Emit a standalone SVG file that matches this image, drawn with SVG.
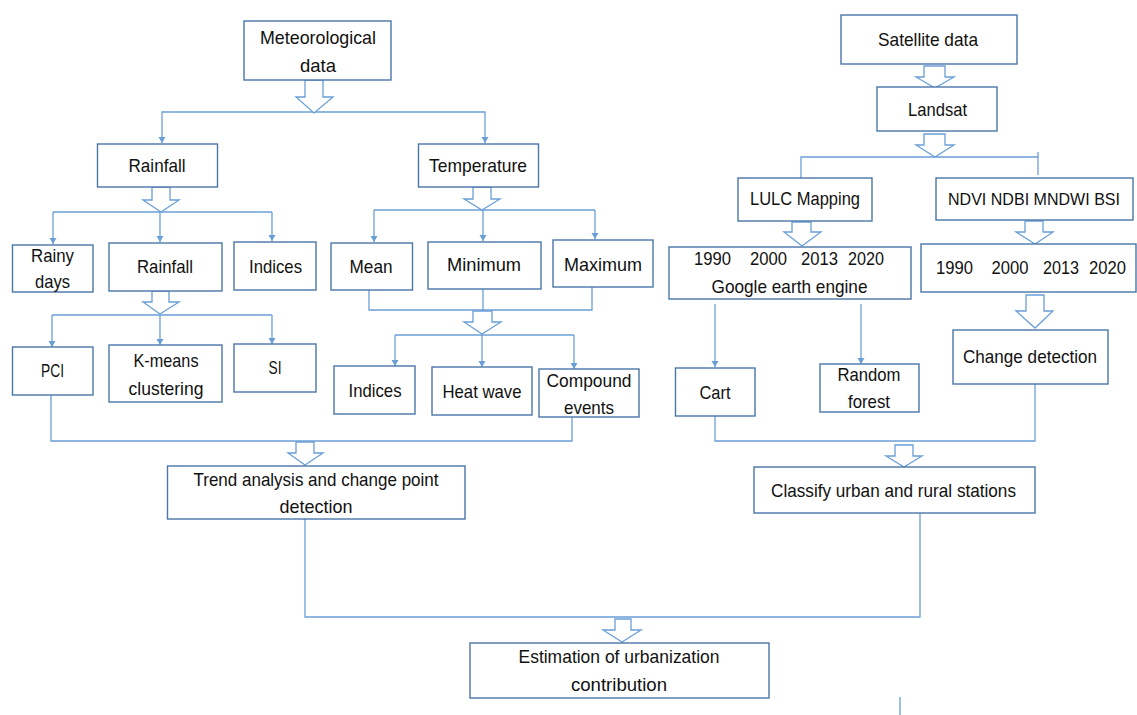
<svg xmlns="http://www.w3.org/2000/svg" width="1137" height="715" viewBox="0 0 1137 715">
<defs>
<style>
.box{fill:#fff;stroke:#4a76a8;stroke-width:1.4}
.con{fill:none;stroke:#6a9fd6;stroke-width:1.3}
.blk{fill:#fff;stroke:#6a9fd6;stroke-width:1.3;stroke-linejoin:miter}
text{font-family:"Liberation Sans",Arial,sans-serif;font-size:19px;fill:#111;text-anchor:middle}
</style>
<marker id="dn" markerWidth="8" markerHeight="8" refX="4" refY="7" markerUnits="userSpaceOnUse" viewBox="0 0 8 8">
<path d="M0.5,1 L7.5,1 L4,7 Z" fill="#6a9fd6"/>
</marker>
</defs>
<rect width="1137" height="715" fill="#fff"/>

<g id="connectors">
<path class="con" d="M314 112 H162 V143" marker-end="url(#dn)"/>
<path class="con" d="M314 112 H485 V143" marker-end="url(#dn)"/>
<path class="con" d="M53 212 H272"/>
<path class="con" d="M53 212 V244" marker-end="url(#dn)"/>
<path class="con" d="M160 212 V242" marker-end="url(#dn)"/>
<path class="con" d="M272 212 V241" marker-end="url(#dn)"/>
<path class="con" d="M374 210 H595"/>
<path class="con" d="M374 210 V242" marker-end="url(#dn)"/>
<path class="con" d="M483 210 V241" marker-end="url(#dn)"/>
<path class="con" d="M595 210 V239" marker-end="url(#dn)"/>
<path class="con" d="M369 290 V310 H592 V287"/>
<path class="con" d="M483 289 V310"/>
<path class="con" d="M395 335 H574"/>
<path class="con" d="M395 335 V366" marker-end="url(#dn)"/>
<path class="con" d="M482 335 V367" marker-end="url(#dn)"/>
<path class="con" d="M574 335 V369" marker-end="url(#dn)"/>
<path class="con" d="M52 315 H272"/>
<path class="con" d="M52 315 V347" marker-end="url(#dn)"/>
<path class="con" d="M160 315 V345" marker-end="url(#dn)"/>
<path class="con" d="M272 315 V344" marker-end="url(#dn)"/>
<path class="con" d="M51 395 V441 H572 V417"/>
<path class="con" d="M305 519 V617 H920 V513"/>
<path class="con" d="M801 178 V157 H1038"/>
<path class="con" d="M1038 152 V175"/>
<path class="con" d="M715 304 V367" marker-end="url(#dn)"/>
<path class="con" d="M861 304 V364" marker-end="url(#dn)"/>
<path class="con" d="M715 416 V441 H1035 V384"/>
<path class="con" d="M900 697 V715"/>
<polygon class="blk" points="305,80 323,80 323,97 333,97 314,113 296,97 305,97"/>
<polygon class="blk" points="152,187 170,187 170,200 179,200 161,212 143,200 152,200"/>
<polygon class="blk" points="473,187 491,187 491,199 500,199 482,210 464,199 473,199"/>
<polygon class="blk" points="152,291 169,291 169,302 179,302 160,314 143,302 152,302"/>
<polygon class="blk" points="473,311 492,311 492,322 501,322 482,334 464,322 473,322"/>
<polygon class="blk" points="296,442 314,442 314,453 323,453 305,465 288,453 296,453"/>
<polygon class="blk" points="924,66 945,66 945,77 954,77 935,88 916,77 924,77"/>
<polygon class="blk" points="924,134 945,134 945,145 954,145 935,157 916,145 924,145"/>
<polygon class="blk" points="792,222 811,222 811,232 821,232 802,246 784,232 792,232"/>
<polygon class="blk" points="1025,221 1043,221 1043,232 1053,232 1035,244 1016,232 1025,232"/>
<polygon class="blk" points="1026,295 1044,295 1044,311 1053,311 1035,328 1016,311 1026,311"/>
<polygon class="blk" points="895,445 913,445 913,456 922,456 904,467 886,456 895,456"/>
<polygon class="blk" points="615,619 631,619 631,630 641,630 622,642 603,630 615,630"/>
</g>

<g id="n-met"><rect class="box" x="244" y="21" width="147" height="59"/><text x="318" y="44" textLength="116" lengthAdjust="spacingAndGlyphs">Meteorological</text><text x="318" y="72" textLength="36" lengthAdjust="spacingAndGlyphs">data</text></g>
<g id="n-rainfall"><rect class="box" x="97.5" y="144" width="120" height="43"/><text x="157" y="172" textLength="57" lengthAdjust="spacingAndGlyphs">Rainfall</text></g>
<g id="n-temp"><rect class="box" x="418.5" y="144" width="120" height="43"/><text x="478" y="172" textLength="98" lengthAdjust="spacingAndGlyphs">Temperature</text></g>
<g id="n-rainy"><rect class="box" x="12.5" y="245" width="80.5" height="47"/><text x="52.5" y="262" textLength="43" lengthAdjust="spacingAndGlyphs">Rainy</text><text x="52.5" y="288" textLength="35" lengthAdjust="spacingAndGlyphs">days</text></g>
<g id="n-rainfall2"><rect class="box" x="109" y="243" width="113" height="48"/><text x="165" y="273" textLength="56" lengthAdjust="spacingAndGlyphs">Rainfall</text></g>
<g id="n-indices1"><rect class="box" x="234" y="242" width="82" height="48"/><text x="275.5" y="273" textLength="53" lengthAdjust="spacingAndGlyphs">Indices</text></g>
<g id="n-mean"><rect class="box" x="331" y="243" width="81.5" height="47"/><text x="371" y="273" textLength="43" lengthAdjust="spacingAndGlyphs">Mean</text></g>
<g id="n-min"><rect class="box" x="428" y="242" width="113" height="47"/><text x="484" y="271" textLength="74" lengthAdjust="spacingAndGlyphs">Minimum</text></g>
<g id="n-max"><rect class="box" x="553" y="240" width="100" height="47"/><text x="603" y="271" textLength="78" lengthAdjust="spacingAndGlyphs">Maximum</text></g>
<g id="n-pci"><rect class="box" x="12.5" y="347" width="80.5" height="48"/><text x="52.5" y="377" textLength="23" lengthAdjust="spacingAndGlyphs">PCI</text></g>
<g id="n-kmeans"><rect class="box" x="109" y="345" width="113" height="57"/><text x="166" y="367" textLength="65" lengthAdjust="spacingAndGlyphs">K-means</text><text x="166" y="395" textLength="75" lengthAdjust="spacingAndGlyphs">clustering</text></g>
<g id="n-si"><rect class="box" x="234" y="344" width="82" height="48"/><text x="275" y="374" textLength="13" lengthAdjust="spacingAndGlyphs">SI</text></g>
<g id="n-indices2"><rect class="box" x="334" y="366" width="81" height="48"/><text x="375" y="397" textLength="53" lengthAdjust="spacingAndGlyphs">Indices</text></g>
<g id="n-heat"><rect class="box" x="432" y="367" width="100" height="48"/><text x="482" y="398" textLength="79" lengthAdjust="spacingAndGlyphs">Heat wave</text></g>
<g id="n-compound"><rect class="box" x="539" y="369" width="100" height="48"/><text x="589" y="387" textLength="85" lengthAdjust="spacingAndGlyphs">Compound</text><text x="589" y="414" textLength="50" lengthAdjust="spacingAndGlyphs">events</text></g>
<g id="n-trend"><rect class="box" x="167.5" y="466" width="297.5" height="53"/><text x="316" y="486" textLength="245" lengthAdjust="spacingAndGlyphs">Trend analysis and change point</text><text x="316" y="513" textLength="73" lengthAdjust="spacingAndGlyphs">detection</text></g>
<g id="n-est"><rect class="box" x="470" y="643" width="299" height="55"/><text x="619" y="663" textLength="201" lengthAdjust="spacingAndGlyphs">Estimation of urbanization</text><text x="619" y="691" textLength="96" lengthAdjust="spacingAndGlyphs">contribution</text></g>
<g id="n-sat"><rect class="box" x="841" y="15" width="176" height="49"/><text x="928" y="46" textLength="100" lengthAdjust="spacingAndGlyphs">Satellite data</text></g>
<g id="n-landsat"><rect class="box" x="877" y="87" width="120" height="44"/><text x="937.5" y="116" textLength="59" lengthAdjust="spacingAndGlyphs">Landsat</text></g>
<g id="n-lulc"><rect class="box" x="738" y="178" width="134" height="43"/><text x="805" y="205" textLength="110" lengthAdjust="spacingAndGlyphs">LULC Mapping</text></g>
<g id="n-ndvi"><rect class="box" x="936" y="178" width="197" height="42"/><text x="1034" y="205" style="font-size:17px" textLength="172" lengthAdjust="spacingAndGlyphs">NDVI NDBI MNDWI BSI</text></g>
<g id="n-years1"><rect class="box" x="669" y="247" width="242" height="52"/><text x="712.5" y="265" textLength="37" lengthAdjust="spacingAndGlyphs">1990</text><text x="768.5" y="265" textLength="37" lengthAdjust="spacingAndGlyphs">2000</text><text x="819.5" y="265" textLength="37" lengthAdjust="spacingAndGlyphs">2013</text><text x="866" y="265" textLength="36" lengthAdjust="spacingAndGlyphs">2020</text><text x="789.5" y="293" textLength="156" lengthAdjust="spacingAndGlyphs">Google earth engine</text></g>
<g id="n-years2"><rect class="box" x="921" y="244" width="215" height="48"/><text x="954.5" y="274" textLength="37" lengthAdjust="spacingAndGlyphs">1990</text><text x="1010" y="274" textLength="37" lengthAdjust="spacingAndGlyphs">2000</text><text x="1061" y="274" textLength="36" lengthAdjust="spacingAndGlyphs">2013</text><text x="1107.5" y="274" textLength="37" lengthAdjust="spacingAndGlyphs">2020</text></g>
<g id="n-change"><rect class="box" x="953" y="330" width="155" height="54"/><text x="1030" y="363" textLength="134" lengthAdjust="spacingAndGlyphs">Change detection</text></g>
<g id="n-cart"><rect class="box" x="675.5" y="368" width="79.5" height="48"/><text x="715" y="399" textLength="31" lengthAdjust="spacingAndGlyphs">Cart</text></g>
<g id="n-rf"><rect class="box" x="820" y="364" width="99" height="48"/><text x="869" y="381" textLength="63" lengthAdjust="spacingAndGlyphs">Random</text><text x="869" y="408" textLength="42" lengthAdjust="spacingAndGlyphs">forest</text></g>
<g id="n-classify"><rect class="box" x="754" y="467" width="281" height="46"/><text x="893.5" y="497" textLength="245" lengthAdjust="spacingAndGlyphs">Classify urban and rural stations</text></g>
</svg>
